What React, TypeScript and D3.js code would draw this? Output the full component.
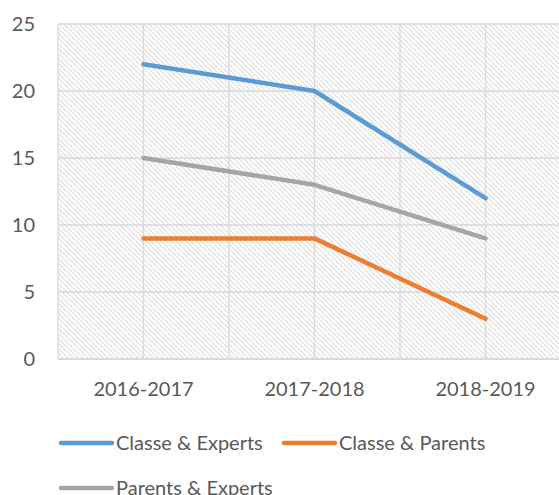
import React from "react";
import * as d3 from "d3";

const categories = ["2016-2017", "2017-2018", "2018-2019"];
const seriesNames = ["Classe & Experts", "Classe & Parents", "Parents & Experts"];
const classeExperts = [22, 20, 12];
const classeParents = [9, 9, 3];
const parentsExperts = [15, 13, 9];
const yTicks = [0, 5, 10, 15, 20, 25];
const colors = ["#5B9BD5", "#ED7D31", "#A5A5A5"];

const W = 559;
const H = 495;
const left = 58;
const top = 24;
const bottom = 359;
const right = 571;
const font = "Lato, 'Open Sans', sans-serif";
const textColor = "#595959";

export default function App() {
  const x = d3.scaleBand<string>().domain(categories).range([left, right]).padding(0);
  const y = d3.scaleLinear().domain([0, 25]).range([bottom, top]);
  const cx = (c: string) => (x(c) as number) + x.bandwidth() / 2;
  const line = d3
    .line<number>()
    .x((_, i) => cx(categories[i]))
    .y((v) => y(v));
  const series = [classeExperts, classeParents, parentsExperts];

  const vLines: number[] = [];
  categories.forEach((c) => {
    vLines.push(x(c) as number);
    vLines.push(cx(c));
  });
  vLines.push(right);

  const legend = [
    { name: seriesNames[0], color: colors[0], lx: 61, ly: 443 },
    { name: seriesNames[1], color: colors[1], lx: 284, ly: 443 },
    { name: seriesNames[2], color: colors[2], lx: 61, ly: 488 },
  ];

  return (
    <svg
      width={W}
      height={H}
      style={{ position: "absolute", left: 0, top: 0, background: "#fff" }}
    >
      <defs>
        <pattern id="hatch" patternUnits="userSpaceOnUse" width={5} height={5}>
          <rect width={5} height={5} fill="#ffffff" />
          <path d="M-1,-1 L6,6 M-1,4 L1,6 M4,-1 L6,1" stroke="#dedede" strokeWidth={1.2} />
        </pattern>
      </defs>
      <rect x={left} y={top} width={right - left} height={bottom - top} fill="url(#hatch)" />
      {yTicks.map((t) => (
        <line key={"h" + t} x1={left} x2={right} y1={y(t)} y2={y(t)} stroke="#d9d9d9" strokeWidth={1.3} />
      ))}
      {vLines.map((v, i) => (
        <line key={"v" + i} x1={v} x2={v} y1={top} y2={bottom} stroke="#d9d9d9" strokeWidth={1.3} />
      ))}
      <line x1={left} x2={right} y1={bottom} y2={bottom} stroke="#d9d9d9" strokeWidth={2} />
      {yTicks.map((t) => (
        <text
          key={"yt" + t}
          x={35}
          y={y(t)}
          dy="0.35em"
          textAnchor="end"
          fill={textColor}
          fontFamily={font}
          fontSize={20}
        >
          {t}
        </text>
      ))}
      {categories.map((c) => (
        <text
          key={"xt" + c}
          x={cx(c)}
          y={396}
          textAnchor="middle"
          fill={textColor}
          fontFamily={font}
          fontSize={20}
        >
          {c}
        </text>
      ))}
      {series.map((s, i) => (
        <path
          key={"s" + i}
          d={line(s) || ""}
          fill="none"
          stroke={colors[i]}
          strokeWidth={4.5}
          strokeLinecap="round"
          strokeLinejoin="round"
        />
      ))}
      {legend.map((l) => (
        <g key={l.name}>
          <line x1={l.lx} x2={l.lx + 51} y1={l.ly} y2={l.ly} stroke={l.color} strokeWidth={4.5} strokeLinecap="round" />
          <text x={l.lx + 55} y={l.ly} dy="0.35em" fill={textColor} fontFamily={font} fontSize={20}>
            {l.name}
          </text>
        </g>
      ))}
    </svg>
  );
}
